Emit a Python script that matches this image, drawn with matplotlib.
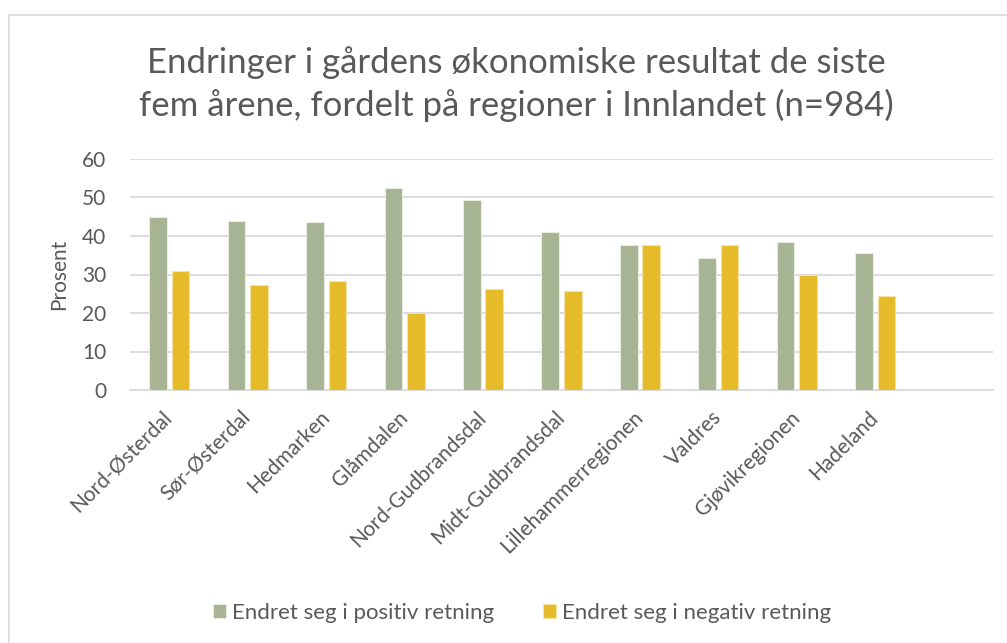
import matplotlib

matplotlib.use("Agg")
import matplotlib.pyplot as plt
import numpy as np
from matplotlib.patches import Rectangle
from matplotlib.transforms import ScaledTranslation

regions = ["Nord-Østerdal", "Sør-Østerdal", "Hedmarken", "Glåmdalen", "Nord-Gudbrandsdal",
           "Midt-Gudbrandsdal", "Lillehammerregionen", "Valdres", "Gjøvikregionen", "Hadeland"]
positiv = [45.0, 43.8, 43.6, 52.5, 49.4, 41.0, 37.7, 34.3, 38.5, 35.5]
negativ = [30.8, 27.2, 28.4, 19.9, 26.3, 25.8, 37.7, 37.7, 29.9, 24.4]
series_names = ["Endret seg i positiv retning", "Endret seg i negativ retning"]
yticks = [0, 10, 20, 30, 40, 50, 60]

GREEN = "#A6B493"
YELLOW = "#E5BB29"
TEXT = "#595959"
GRID = "#D9D9D9"

plt.rcParams["font.family"] = ["Lato", "DejaVu Sans"]

fig = plt.figure(figsize=(10.07, 6.43), dpi=100)
# chart border (cut off at right and bottom in the reference)
fig.patches.append(Rectangle((9 / 1007, -0.05), 1.1, 1 - 15 / 643 + 0.05, transform=fig.transFigure,
                             fill=False, edgecolor=GRID, linewidth=1.2))

ax = fig.add_axes([130 / 1007, 1 - 390 / 643, (993 - 130) / 1007, (390 - 159) / 643])

x = np.arange(len(regions))
w = 0.225
ax.bar(x - 0.143, positiv, width=w, color=GREEN, edgecolor="#E8ECE2", linewidth=0.8, zorder=3,
       label=series_names[0])
ax.bar(x + 0.143, negativ, width=w, color=YELLOW, edgecolor="#F5E3A6", linewidth=0.8, zorder=3,
       label=series_names[1])

ax.set_xlim(-0.5, len(regions) + 0.5)
ax.set_ylim(0, 60)
ax.set_yticks(yticks)
ax.yaxis.grid(True, color=GRID, linewidth=1.3, zorder=0)
for s in ["top", "right", "left"]:
    ax.spines[s].set_visible(False)
ax.spines["bottom"].set_color(GRID)
ax.spines["bottom"].set_linewidth(1.3)
ax.tick_params(axis="y", length=0, pad=17, labelsize=15, labelcolor=TEXT)
ax.tick_params(axis="x", length=0, pad=6, labelsize=15, labelcolor=TEXT)
ax.set_xticks(x)
ax.set_xticklabels(regions, rotation=45, ha="right", va="center", rotation_mode="anchor")
for lbl in ax.get_xticklabels():
    lbl.set_transform(lbl.get_transform() + ScaledTranslation(0, -16 / 100, fig.dpi_scale_trans))

ax.set_ylabel("Prosent", fontsize=15, color=TEXT)
ax.yaxis.set_label_coords((69 - 130) / 863, 0.5)

fig.text(516 / 1007, 1 - 63 / 643, "Endringer i gårdens økonomiske resultat de siste",
         ha="center", va="center", fontsize=25, color=TEXT)
fig.text(516 / 1007, 1 - 105 / 643, "fem årene, fordelt på regioner i Innlandet (n=984)",
         ha="center", va="center", fontsize=25, color=TEXT)

fig.legend(loc="center", bbox_to_anchor=(522 / 1007, 1 - 613 / 643), ncol=2, frameon=False,
           fontsize=16, labelcolor=TEXT, handlelength=0.6, handleheight=0.6,
           handletextpad=0.25, columnspacing=2.2)

fig.savefig("out.png", dpi=100)
plt.close(fig)
